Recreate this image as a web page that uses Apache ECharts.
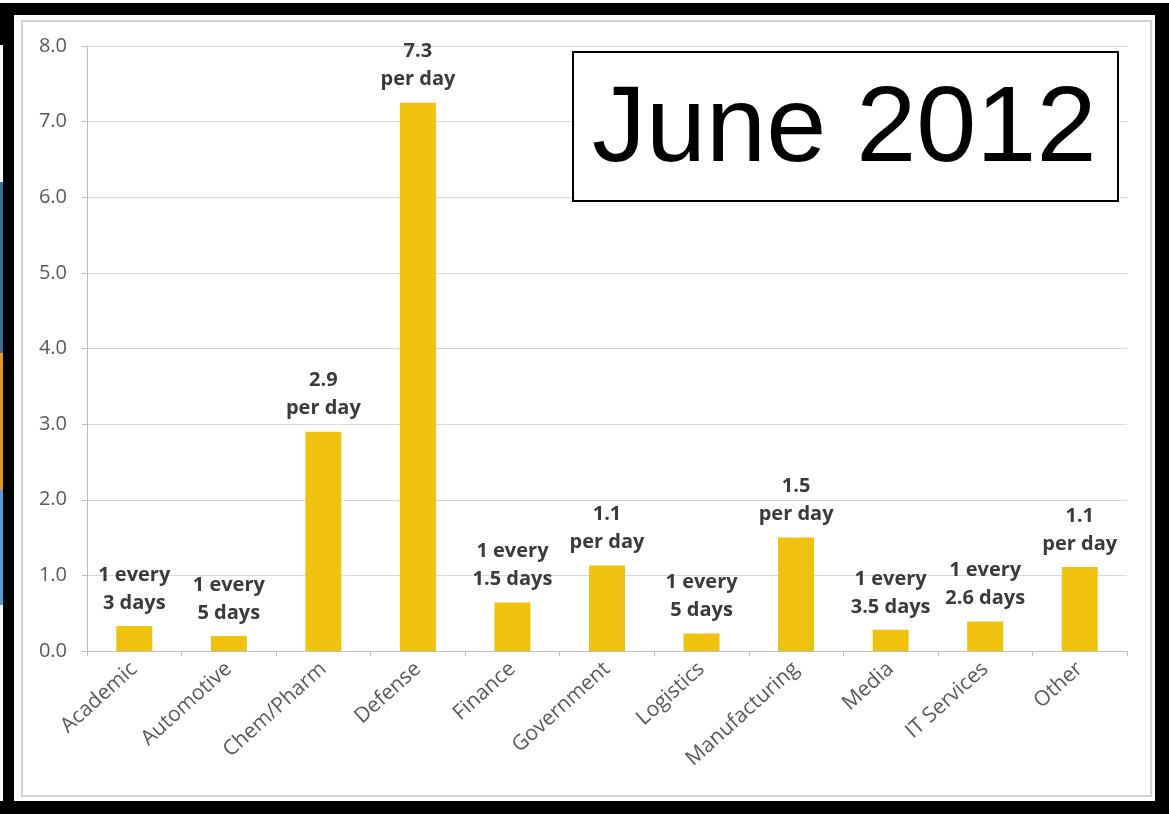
<!DOCTYPE html>
<html>
<head>
<meta charset="utf-8">
<script src="https://cdn.jsdelivr.net/npm/echarts@6/dist/echarts.min.js"></script>
<style>
html,body{margin:0;padding:0;background:#fff;}
#c{width:1169px;height:814px;}
</style>
</head>
<body>
<div id="c"></div>
<script>
const categories = ['Academic','Automotive','Chem/Pharm','Defense','Finance','Government','Logistics','Manufacturing','Media','IT Services','Other'];
const values = [0.33, 0.20, 2.90, 7.25, 0.64, 1.13, 0.23, 1.50, 0.28, 0.39, 1.11];
const labelTexts = ['1 every\n3 days','1 every\n5 days','2.9\nper day','7.3\nper day','1 every\n1.5 days','1.1\nper day','1 every\n5 days','1.5\nper day','1 every\n3.5 days','1 every\n2.6 days','1.1\nper day'];
const yTicks = [0,1,2,3,4,5,6,7,8];
const titleText = 'June 2012';

const chart = echarts.init(document.getElementById('c'), null, {renderer:'canvas'});
const font = '"Open Sans", Lato, "DejaVu Sans", sans-serif';
chart.setOption({
  animation:false,
  backgroundColor:'#ffffff',
  grid:{left:87, right:42, top:46, bottom:163, containLabel:false},
  xAxis:{
    type:'category',
    data:categories,
    boundaryGap:true,
    axisLine:{lineStyle:{color:'#bfbfbf', width:1}},
    axisTick:{show:true, length:5, lineStyle:{color:'#bfbfbf'}, alignWithLabel:false},
    axisLabel:{rotate:42, fontSize:21, color:'#595959', fontFamily:font, margin:15, interval:0}
  },
  yAxis:{
    type:'value',
    min:yTicks[0], max:yTicks[yTicks.length-1], interval:1,
    axisLine:{show:true, lineStyle:{color:'#bfbfbf'}},
    axisTick:{show:true, length:5, lineStyle:{color:'#bfbfbf'}},
    axisLabel:{fontSize:20, color:'#595959', fontFamily:font, margin:20, formatter:v=>v.toFixed(1)},
    splitLine:{show:true, lineStyle:{color:'#d9d9d9', width:1}}
  },
  series:[{
    type:'bar',
    data:values.map((v,i)=>({value:v, label:{formatter:labelTexts[i]}})),
    barWidth:36,
    itemStyle:{color:'#EEC20F'},
    label:{show:true, position:'top', distance:9, fontSize:20, fontWeight:'bold', color:'#3a3a3a', fontFamily:font, lineHeight:28, align:'center'}
  }],
  graphic:[
    {type:'rect', z:-10, shape:{x:22, y:21, width:1129, height:775}, style:{fill:'none', stroke:'#d0d0d0', lineWidth:2}},
    {type:'rect', z:100, shape:{x:573, y:52, width:545, height:149}, style:{fill:'#ffffff', stroke:'#000000', lineWidth:2}},
    {type:'text', z:101, left:592, top:77, style:{text:titleText, font:'108px "Liberation Sans", Arial, sans-serif', fill:'#000000'}},
    {type:'rect', z:200, shape:{x:0, y:3, width:1169, height:12}, style:{fill:'#000'}},
    {type:'rect', z:200, shape:{x:3, y:3, width:11, height:811}, style:{fill:'#000'}},
    {type:'rect', z:200, shape:{x:1155, y:3, width:14, height:811}, style:{fill:'#000'}},
    {type:'rect', z:200, shape:{x:0, y:801, width:1169, height:13}, style:{fill:'#000'}},
    {type:'rect', z:200, shape:{x:0, y:182, width:3, height:171}, style:{fill:'#3d6d99'}},
    {type:'rect', z:200, shape:{x:0, y:353, width:3, height:137}, style:{fill:'#e39a1b'}},
    {type:'rect', z:200, shape:{x:0, y:490, width:3, height:115}, style:{fill:'#5b9bd5'}},
    {type:'rect', z:200, shape:{x:0, y:15, width:4, height:30}, style:{fill:'#000'}}
  ]
});
</script>
</body>
</html>
